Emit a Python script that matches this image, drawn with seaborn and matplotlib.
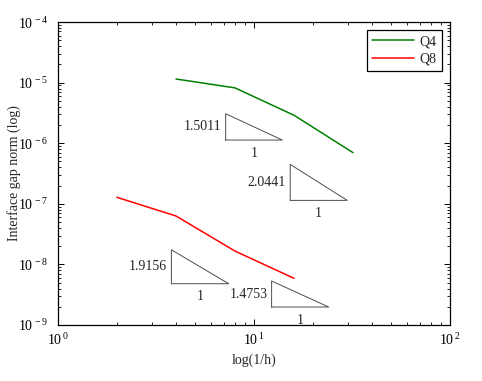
import numpy as np
import pandas as pd
import matplotlib
matplotlib.use('Agg')
import matplotlib.pyplot as plt
from matplotlib.ticker import FuncFormatter
import seaborn as sns

# data
h_q4 = [4, 8, 16, 32]
gap_q4 = [1.15e-5, 8.2e-6, 2.9e-6, 7.0e-7]
h_q8 = [2, 4, 8, 16]
gap_q8 = [1.28e-7, 6.3e-8, 1.66e-8, 5.9e-9]

# slope triangles: left x, right x, bottom y, slope
tri_x0 = [7.17, 15.3, 3.79, 12.3]
tri_x1 = [13.95, 29.9, 7.43, 24.05]
tri_y0 = [1.13e-6, 1.14e-7, 4.8e-9, 1.98e-9]
tri_slope = [1.5011, 2.0441, 1.9156, 1.4753]

df = pd.DataFrame({
    'h': h_q4 + h_q8,
    'gap': gap_q4 + gap_q8,
    'elem': ['Q4'] * len(h_q4) + ['Q8'] * len(h_q8),
})

sns.set_style('ticks')
plt.rcParams['font.family'] = ['Liberation Serif', 'DejaVu Serif']
plt.rcParams['mathtext.fontset'] = 'custom'
plt.rcParams['mathtext.rm'] = 'Liberation Serif'
plt.rcParams['mathtext.it'] = 'Liberation Serif'
plt.rcParams['mathtext.default'] = 'rm'
plt.rcParams['font.size'] = 10

fig = plt.figure(figsize=(4.82, 3.81), dpi=100)
ax = fig.add_axes([0.1203, 0.147, 0.8133, 0.795])

sns.lineplot(data=df, x='h', y='gap', hue='elem',
             palette={'Q4': (0, 0.5, 0), 'Q8': (1, 0, 0)},
             estimator=None, legend=False, linewidth=1.1, ax=ax)

ax.set_xscale('log')
ax.set_yscale('log')
ax.set_xlim(1, 100)
ax.set_ylim(1e-9, 1e-4)

def pow10(v, pos):
    e = int(round(np.log10(v)))
    return r'$10^{\,%d}$' % e

ax.xaxis.set_major_formatter(FuncFormatter(pow10))
ax.yaxis.set_major_formatter(FuncFormatter(pow10))
ax.xaxis.set_minor_formatter(FuncFormatter(lambda v, p: ''))
ax.yaxis.set_minor_formatter(FuncFormatter(lambda v, p: ''))

# slope triangles
for x0, x1, y0, s in zip(tri_x0, tri_x1, tri_y0, tri_slope):
    y1 = y0 * (x1 / x0) ** s
    ax.plot([x0, x0, x1, x0], [y0, y1, y0, y0], color='0.3', lw=0.7)
    ax.text(x0 * 0.95, np.sqrt(y0 * y1), f'{s:.4f}', ha='right', va='center',
            fontsize=10)
    ax.text(np.sqrt(x0 * x1), y0 * 0.78, '1', ha='center', va='top',
            fontsize=10)

ax.legend(handles=ax.lines[:2], labels=['Q4', 'Q8'], loc='upper right',
          fancybox=False, edgecolor='black', framealpha=1, handlelength=3.0,
          handletextpad=0.4, borderaxespad=0.55, labelspacing=0.3, fontsize=10)
ax.get_legend().get_frame().set_linewidth(0.9)

ax.tick_params(which='both', direction='in', top=True, right=True, colors='black',
               labelsize=10)
ax.tick_params(which='major', length=4, width=0.7)
ax.tick_params(axis='y', which='major', pad=7)
ax.tick_params(axis='x', which='major', pad=5)
ax.tick_params(which='minor', length=2, width=0.6)
for sp in ax.spines.values():
    sp.set_color('black')
    sp.set_linewidth(0.9)

ax.set_xlabel('log(1/h)', fontsize=10)
ax.set_ylabel('Interface gap norm (log)', fontsize=10)
ax.xaxis.set_label_coords(0.5, -0.095)
ax.yaxis.set_label_coords(-0.095, 0.5)

fig.savefig('out.png', dpi=100)
